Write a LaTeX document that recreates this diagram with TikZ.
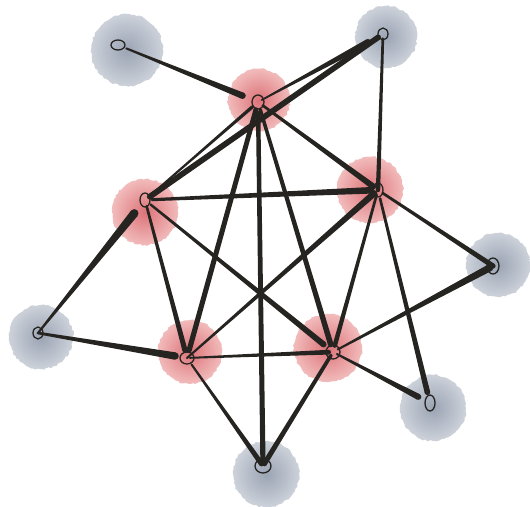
\documentclass[tikz,border=0pt]{standalone}
\usetikzlibrary{calc,decorations.pathmorphing}
\definecolor{grayIn}{RGB}{155,164,180}
\definecolor{grayOut}{RGB}{205,210,218}
\definecolor{redIn}{RGB}{220,115,120}
\definecolor{redOut}{RGB}{242,188,188}
\definecolor{ink}{RGB}{38,36,33}
\tikzset{
  grayblob/.style={inner color=grayIn, outer color=grayOut, decorate, decoration={random steps,segment length=2.5pt,amplitude=0.9pt}},
  redblob/.style={inner color=redIn, outer color=redOut, decorate, decoration={random steps,segment length=2.5pt,amplitude=0.9pt}},
  glyph/.style={draw=ink, line width=1.3pt},
  inkfill/.style={fill=ink}
}
\newcommand\edgeT[6]{%
  \path ($(#1)!#5!(#2)$) coordinate (tp) ($(#2)!#6!(#1)$) coordinate (tq);
  \fill[inkfill] ($(tp)!#3pt!90:(tq)$) -- ($(tq)!#4pt!-90:(tp)$) -- ($(tq)!#4pt!90:(tp)$) -- ($(tp)!#3pt!-90:(tq)$) -- cycle;
  \fill[inkfill] (tp) circle (#3pt);
  \fill[inkfill] (tq) circle (#4pt);
}
\begin{document}
\begin{tikzpicture}[x=1pt,y=-1pt]
\useasboundingbox (0,0) rectangle (530,506);
% blobs
\shade[grayblob] (127,50) circle (36);
\shade[grayblob] (386,37) circle (31);
\shade[grayblob] (498,265) circle (32);
\shade[grayblob] (433,408) circle (33);
\shade[grayblob] (266,474) circle (33);
\shade[grayblob] (41,337) circle (32);
\shade[redblob] (259,100) circle (31);
\shade[redblob] (145,212) circle (33);
\shade[redblob] (370,190) circle (33);
\shade[redblob] (190,352) circle (32);
\shade[redblob] (328,348) circle (34);
% node positions
\coordinate (G1) at (118,45);
\coordinate (G2) at (383,34);
\coordinate (G3) at (493,266);
\coordinate (G4) at (430,403);
\coordinate (G5) at (263,466);
\coordinate (G6) at (38,333);
\coordinate (R1) at (258,102);
\coordinate (R2) at (145,200);
\coordinate (R3) at (378,190);
\coordinate (R4) at (187,358);
\coordinate (R5) at (333,352);
% edges
\edgeT{G1}{R1}{1.0}{3.2}{0.06}{0.11}
\edgeT{R1}{G2}{0.8}{3.2}{0.03}{0.12}
\edgeT{G2}{R2}{2.8}{2.9}{0.02}{0.02}
\edgeT{G2}{R3}{1.3}{2.2}{0.03}{0}
\edgeT{R1}{R2}{1.7}{0.9}{0.05}{0.05}
\edgeT{R1}{R4}{2.4}{2.6}{0.03}{0.03}
\edgeT{R1}{G5}{2.2}{2.6}{0.03}{0.02}
\edgeT{R1}{R5}{1.7}{2.8}{0.03}{0.03}
\edgeT{R1}{R3}{1.3}{3.0}{0.04}{0.04}
\edgeT{R2}{R3}{1.5}{3.3}{0.03}{0.03}
\edgeT{R2}{R4}{1.3}{2.6}{0.04}{0.05}
\edgeT{R2}{R5}{1.2}{3.0}{0.03}{0.05}
\edgeT{R2}{G6}{4.2}{1.0}{0.1}{0}
\edgeT{R3}{R4}{3.2}{1.0}{0.02}{0}
\edgeT{R3}{R5}{1.3}{2.3}{0.03}{0.04}
\edgeT{R3}{G4}{1.3}{2.8}{0.04}{0.05}
\edgeT{R3}{G3}{1.3}{2.6}{0.04}{0}
\edgeT{G6}{R4}{1.3}{3.7}{0}{0.08}
\edgeT{R4}{R5}{0.9}{2.4}{0.02}{0.03}
\edgeT{R4}{G5}{1.0}{2.6}{0.06}{0.02}
\edgeT{R5}{G5}{1.8}{2.6}{0.03}{0.02}
\edgeT{R5}{G3}{1.0}{3.6}{0.03}{0.02}
\edgeT{R5}{G4}{1.0}{3.0}{0.04}{0.12}
% node glyphs
\draw[glyph] (G1) ellipse (7 and 5);
\draw[glyph] (G2) ellipse (5 and 6);
\draw[glyph] (G3) ellipse (6 and 8);
\draw[glyph] (G4) ellipse (5 and 8);
\draw[glyph] (G5) ellipse (8 and 7);
\draw[glyph] (G6) ellipse (5 and 6);
\draw[glyph] (R1) ellipse (6 and 7);
\draw[glyph] (R2) ellipse (5 and 7);
\draw[glyph] (R3) ellipse (5 and 7);
\draw[glyph] (R4) ellipse (7 and 6);
\draw[glyph] (R5) ellipse (7 and 7);
\end{tikzpicture}
\end{document}
